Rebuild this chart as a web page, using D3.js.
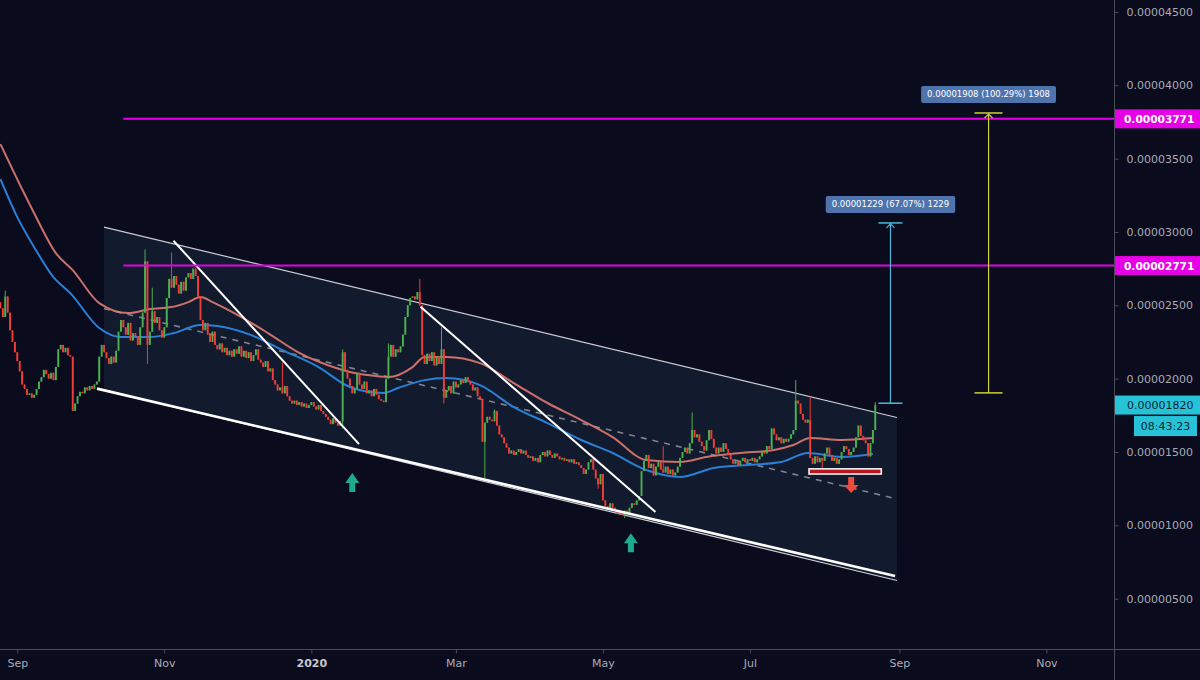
<!DOCTYPE html>
<html><head><meta charset="utf-8">
<script src="https://cdn.jsdelivr.net/npm/d3@7"></script>
<style>html,body{margin:0;padding:0;background:#0b0b1e;overflow:hidden}svg{display:block}</style>
</head><body><svg id="c" width="1200" height="680"></svg>
<script>
// ---- data (prices in units of 1e-8) ----
const START = Date.UTC(2019, 7, 25);      // first daily candle
const firstOpen = 2520;
const closes = [
 2480,2420,2560,2450,2330,2250,2180,2120,2050,1960,
 1930,1890,1900,1870,1890,1930,1980,2010,2060,2030,
 2000,2040,1990,2080,2200,2230,2180,2210,2160,2150,
 1780,1830,1880,1910,1900,1940,1920,1950,1930,1960,
 1980,2150,2230,2180,2140,2100,2150,2110,2190,2320,
 2400,2350,2300,2380,2260,2310,2290,2230,2350,2450,
 2800,2230,2320,2460,2380,2420,2330,2280,2350,2550,
 2680,2620,2700,2640,2580,2660,2600,2690,2720,2680,
 2750,2700,2560,2400,2330,2380,2300,2250,2320,2230,
 2200,2240,2180,2210,2160,2190,2150,2200,2170,2220,
 2150,2190,2140,2180,2120,2160,2200,2130,2110,2080,
 2120,2050,2070,1990,1960,1920,1940,1900,1950,1880,
 1850,1830,1850,1820,1840,1810,1830,1800,1820,1840,
 1810,1790,1820,1780,1760,1740,1720,1690,1730,1700,
 1680,1710,2180,2060,2000,1950,1900,1930,2040,1960,
 1930,1980,1900,1920,1880,1930,1890,1860,1850,1840,
 2000,2150,2230,2150,2200,2180,2220,2300,2420,2500,
 2550,2560,2540,2590,2500,2160,2100,2170,2120,2180,
 2090,2150,2100,2200,1870,1920,1950,1900,1980,1940,
 1960,1990,1970,2010,1980,1960,1920,1940,1880,1860,
 1570,1700,1740,1720,1710,1780,1680,1620,1600,1560,
 1530,1490,1510,1480,1500,1520,1490,1510,1480,1460,
 1470,1440,1460,1430,1480,1500,1470,1510,1480,1460,
 1490,1470,1450,1460,1440,1450,1430,1450,1420,1430,
 1410,1390,1350,1380,1430,1450,1380,1320,1280,1350,
 1170,1130,1110,1150,1120,1100,1080,1090,1070,1100,
 1080,1120,1150,1140,1170,1200,1370,1440,1480,1390,
 1420,1340,1400,1430,1380,1360,1400,1350,1380,1340,
 1360,1400,1460,1500,1530,1490,1560,1650,1600,1620,
 1570,1540,1510,1580,1650,1590,1530,1490,1530,1500,
 1560,1520,1480,1450,1420,1440,1410,1440,1460,1430,
 1450,1440,1460,1430,1450,1470,1500,1490,1540,1520,
 1660,1620,1580,1600,1560,1590,1570,1590,1620,1650,
 1850,1830,1760,1720,1700,1720,1460,1420,1470,1430,
 1460,1440,1490,1530,1480,1440,1460,1420,1450,1500,
 1540,1520,1480,1500,1530,1600,1680,1610,1580,1560,
 1470,1560,1650,1820
];
const spikeHigh = [[2,2600],[60,2880],[63,2620],[71,2860],[117,2110],[142,2200],[161,2240],[174,2680],[183,2350],[205,1790],[275,1540],[287,1770],[330,1990],[336,1880],[363,1840]];
const spikeLow  = [[61,2100],[142,1660],[184,1830],[201,1320],[248,1250],[259,1050],[341,1370]];
const maSlow = [[0,3599],[14,3128],[23,2856],[30,2740],[41,2515],[53,2447],[62,2474],[71,2488],[78,2522],[83,2556],[88,2522],[97,2447],[111,2311],[124,2175],[138,2079],[145,2045],[152,2025],[161,2011],[171,2079],[176,2148],[185,2148],[199,2106],[213,1970],[227,1834],[241,1718],[254,1602],[268,1445],[282,1432],[293,1466],[307,1493],[321,1514],[329,1548],[336,1595],[349,1582],[362,1595]];
const maFast = [[0,3360],[7,3101],[14,2896],[22,2692],[29,2583],[41,2345],[50,2284],[62,2284],[72,2311],[83,2366],[90,2359],[104,2297],[117,2195],[132,2079],[145,1943],[159,1902],[165,1936],[176,1990],[185,2004],[199,1956],[213,1806],[227,1697],[241,1582],[254,1493],[268,1377],[282,1330],[296,1391],[310,1411],[324,1432],[335,1493],[349,1466],[362,1486]];
const priceTicks = [500,1000,1500,2000,2500,3000,3500,4000,4500];
const dateTicks = [[Date.UTC(2019,8,1),"Sep"],[Date.UTC(2019,10,1),"Nov"],[Date.UTC(2020,0,1),"2020"],[Date.UTC(2020,2,1),"Mar"],[Date.UTC(2020,4,1),"May"],[Date.UTC(2020,6,1),"Jul"],[Date.UTC(2020,8,1),"Sep"],[Date.UTC(2020,10,1),"Nov"]];
const channelTop = [[42.97,3033],[372.0,1735]];
const channelBottom = [[42.97,1922],[372.0,624]];
const channelMid = [[42.97,2477],[372.0,1180]];
const trendLines = [[[71.8,2940],[148.8,1554]],[[174.3,2490],[271.8,1091]]];
const supportLine = [[40.07,1932],[371.2,654]];
const levels = [3771, 2771];
const levelStart = 51;
const measures = [
  {at:369.3, from:1832.5, to:3061.5, label:"0.00001229 (67.07%) 1229"},
  {at:410.0, from:1903, to:3811, label:"0.00001908 (100.29%) 1908"}
];
const arrowsUp = [[146,1356],[261.6,947]];
const arrowsDown = [[353,1329]];
const zone = [[335.5,1385],[365.5,1350]];
const lastPrice = 1820;
const countdown = "08:43:23";

// ---- styles ----
const BG = "#0b0b1e", GRID = "#4a4d58", TXT = "#a9acb5";
const UP = "#4caf50", DN = "#ef3d38";
const W = 1200, H = 680, PR = 1114, PB = 649;
const fmt = v => (v * 1e-8).toFixed(8);
const dayDate = i => new Date(START + i * 864e5);

const svg = d3.select("#c");
svg.append("rect").attr("width", W).attr("height", H).attr("fill", BG);

const x = d3.scaleUtc().domain([Date.UTC(2019,8,1), Date.UTC(2020,10,1)]).range([17.3, 1046.4]);
const y = d3.scaleLinear().domain([500, 4500]).range([598.7, 11.9]);
const X = i => x(dayDate(i));

svg.append("defs").append("clipPath").attr("id","clip").append("rect").attr("width",PR).attr("height",PB);
const g = svg.append("g").attr("clip-path","url(#clip)");

// channel
const poly = [channelTop[0], channelTop[1], channelBottom[1], channelBottom[0]];
g.append("path").attr("d", "M" + poly.map(p => X(p[0]) + "," + y(p[1])).join("L") + "Z")
  .attr("fill", "#121a2d");
const seg = (p, q) => `M${X(p[0])},${y(p[1])}L${X(q[0])},${y(q[1])}`;
g.append("path").attr("d", seg(...channelTop)).attr("stroke","#c9ccd4").attr("stroke-width",1.2).attr("fill","none");
g.append("path").attr("d", seg(...channelBottom)).attr("stroke","#c9ccd4").attr("stroke-width",1.2).attr("fill","none");
g.append("path").attr("d", seg(...channelMid)).attr("stroke","#80838d").attr("stroke-width",1.6)
  .attr("stroke-dasharray","6,6").attr("fill","none");

// moving averages
const line = d3.line().x(d => X(d[0])).y(d => y(d[1])).curve(d3.curveMonotoneX);
g.append("path").attr("d", line(maSlow)).attr("stroke","#e07a72").attr("stroke-width",2).attr("fill","none").attr("opacity",0.9);
g.append("path").attr("d", line(maFast)).attr("stroke","#2a7fd6").attr("stroke-width",2).attr("fill","none");

// candles
const data = closes.map((c, i) => {
  const o = i ? closes[i-1] : firstOpen;
  return {i, o, c, h: Math.max(o, c), l: Math.min(o, c)};
});
spikeHigh.forEach(([i, v]) => { data[i].h = Math.max(data[i].h, v); });
spikeLow.forEach(([i, v]) => { data[i].l = Math.min(data[i].l, v); });
const cg = g.append("g");
data.forEach(d => {
  const col = d.c >= d.o ? UP : DN;
  const cx = X(d.i);
  cg.append("line").attr("x1",cx).attr("x2",cx).attr("y1",y(d.h)).attr("y2",y(d.l)).attr("stroke",col).attr("stroke-width",1);
  const top = y(Math.max(d.o, d.c)), bot = y(Math.min(d.o, d.c));
  cg.append("rect").attr("x",cx-0.95).attr("width",1.9).attr("y",top).attr("height",Math.max(1,bot-top)).attr("fill",col);
});

// trend lines
trendLines.forEach(t => g.append("path").attr("d", seg(...t)).attr("stroke","#ffffff").attr("stroke-width",2).attr("fill","none"));
g.append("path").attr("d", seg(...supportLine)).attr("stroke","#ffffff").attr("stroke-width",2.6).attr("fill","none");

// horizontal levels
levels.forEach(v => g.append("line").attr("x1", X(levelStart)).attr("x2", PR).attr("y1", y(v)).attr("y2", y(v))
  .attr("stroke","#e600e6").attr("stroke-width",2));

// zone rectangle
g.append("rect").attr("x", X(zone[0][0])).attr("y", y(zone[0][1]))
  .attr("width", X(zone[1][0]) - X(zone[0][0])).attr("height", y(zone[1][1]) - y(zone[0][1]))
  .attr("fill","#b3161c").attr("stroke","#ffffff").attr("stroke-width",1.5);

// arrows
const arrowUpPath = (cx, ty) => `M${cx},${ty}L${cx+7},${ty+10}L${cx+3},${ty+10}L${cx+3},${ty+19}L${cx-3},${ty+19}L${cx-3},${ty+10}L${cx-7},${ty+10}Z`;
const arrowDownPath = (cx, ty) => `M${cx-3},${ty}L${cx+3},${ty}L${cx+3},${ty+8}L${cx+7.5},${ty+8}L${cx},${ty+16}L${cx-7.5},${ty+8}L${cx-3},${ty+8}Z`;
arrowsUp.forEach(([i, v]) => g.append("path").attr("d", arrowUpPath(X(i), y(v))).attr("fill","#1fa98d"));
arrowsDown.forEach(([i, v]) => g.append("path").attr("d", arrowDownPath(X(i), y(v))).attr("fill","#ef4a3c"));

// measure tools
const mColors = ["#4fb8d6", "#cfcf3a"];
measures.forEach((m, k) => {
  const cx = X(m.at), y0 = y(m.from), y1 = y(m.to), col = mColors[k];
  const half = k ? 14 : 12;
  g.append("line").attr("x1",cx).attr("x2",cx).attr("y1",y0).attr("y2",y1).attr("stroke",col).attr("stroke-width",1.2);
  g.append("line").attr("x1",cx-half).attr("x2",cx+half).attr("y1",y0).attr("y2",y0).attr("stroke",col).attr("stroke-width",1.5);
  g.append("line").attr("x1",cx-half).attr("x2",cx+half).attr("y1",y1).attr("y2",y1).attr("stroke",col).attr("stroke-width",1.5);
  g.append("path").attr("d",`M${cx-4},${y1+5}L${cx},${y1+1}L${cx+4},${y1+5}`).attr("stroke",col).attr("stroke-width",1.2).attr("fill","none");
  const t = g.append("text").attr("x",cx).attr("y",y1-14).attr("text-anchor","middle")
    .attr("font-family","DejaVu Sans, Verdana, sans-serif").attr("font-size",8.5).attr("fill","#ffffff").text(m.label);
  const bb = t.node().getBBox();
  g.insert("rect", () => t.node()).attr("x", bb.x - 6).attr("y", y1 - 27).attr("width", bb.width + 12).attr("height", 17)
    .attr("rx", 2).attr("fill","#4f74ad");
  t.attr("dominant-baseline","central").attr("y", y1 - 18.5);
});

// axes
svg.append("line").attr("x1",PR+0.5).attr("x2",PR+0.5).attr("y1",0).attr("y2",H).attr("stroke",GRID).attr("stroke-width",1);
svg.append("line").attr("x1",0).attr("x2",W).attr("y1",PB+0.5).attr("y2",PB+0.5).attr("stroke",GRID).attr("stroke-width",1);

const yAxis = svg.append("g").attr("transform",`translate(${PR+0.5},0)`)
  .call(d3.axisRight(y).tickValues(priceTicks).tickSize(4).tickPadding(8).tickFormat(fmt));
yAxis.select(".domain").remove();
yAxis.selectAll("line").attr("stroke",GRID);
yAxis.selectAll("text").attr("fill",TXT).attr("font-family","DejaVu Sans, Verdana, sans-serif").attr("font-size",11);

const xAxis = svg.append("g").attr("transform",`translate(0,${PB+0.5})`)
  .call(d3.axisBottom(x).tickValues(dateTicks.map(d => new Date(d[0]))).tickSize(4).tickPadding(6)
    .tickFormat((d, i) => dateTicks[i][1]));
xAxis.select(".domain").remove();
xAxis.selectAll("line").attr("stroke",GRID);
xAxis.selectAll("text").attr("fill",TXT).attr("font-family","DejaVu Sans, Verdana, sans-serif").attr("font-size",11)
  .attr("font-weight", (d, i) => dateTicks[i][1] === "2020" ? "bold" : "normal")
  .attr("fill", (d, i) => dateTicks[i][1] === "2020" ? "#c5c8cf" : TXT);

// axis price labels
const tagG = svg.append("g").attr("font-family","DejaVu Sans, Verdana, sans-serif");
levels.forEach(v => {
  tagG.append("rect").attr("x",PR+1).attr("y",y(v)-9.5).attr("width",W-PR-1).attr("height",19).attr("fill","#e600e6");
  tagG.append("text").attr("x",PR+10).attr("y",y(v)).attr("dominant-baseline","central").attr("font-size",10.6)
    .attr("font-weight","bold").attr("fill","#ffffff").text(fmt(v));
});
tagG.append("rect").attr("x",PR+1).attr("y",y(lastPrice)-9.5).attr("width",W-PR-1).attr("height",19).attr("fill","#26c3d8");
tagG.append("text").attr("x",PR+13).attr("y",y(lastPrice)).attr("dominant-baseline","central").attr("font-size",11)
  .attr("fill","#0c2430").text(fmt(lastPrice));
tagG.append("rect").attr("x",1134).attr("y",y(lastPrice)+11).attr("width",63).attr("height",20).attr("fill","#26c3d8");
tagG.append("text").attr("x",1165.5).attr("y",y(lastPrice)+21).attr("text-anchor","middle").attr("dominant-baseline","central")
  .attr("font-size",11).attr("fill","#0c2430").text(countdown);
</script></body></html>
